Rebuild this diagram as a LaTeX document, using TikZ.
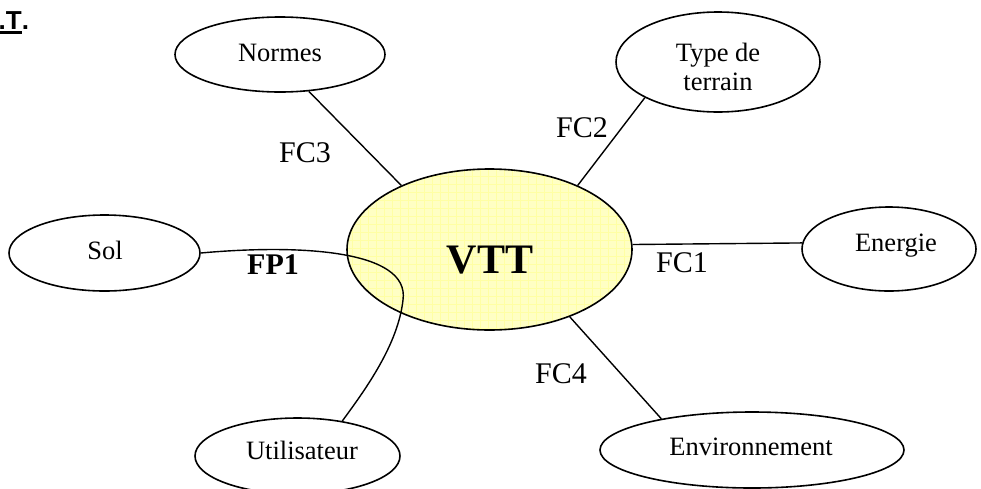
\documentclass[tikz,border=0pt]{standalone}
\usepackage{fontspec}
\setmainfont{Liberation Serif}
\newfontfamily\arialfont{Liberation Sans}
\usetikzlibrary{shapes.geometric}
\definecolor{vttfill}{HTML}{FFFFC4}
\definecolor{vttgrid}{HTML}{FFFFA4}
\newcommand\ulthick[1]{\setbox0\hbox{#1}\rlap{\rule[-4.5pt]{\wd0}{2.6pt}}\box0}
\begin{document}
\begin{tikzpicture}[x=1pt,y=-1pt,
  oval/.style={draw, ellipse, line width=1.6pt, inner sep=0pt},
  conn/.style={line width=1.4pt},
  lbl/.style={anchor=base, inner sep=0pt, font=\fontsize{30}{34}\selectfont},
  txt/.style={anchor=base, inner sep=0pt, font=\fontsize{26.5}{29}\selectfont, align=center}]
\clip (0,0) rectangle (981,488);
\coordinate (c) at (489.5,249.5);
\fill[vttfill] (c) ellipse [x radius=142.5, y radius=80.5];
\begin{scope}
  \clip (c) ellipse [x radius=142.5, y radius=80.5];
  \draw[vttgrid, line width=0.45pt, step=8pt] (340,160) grid (640,340);
\end{scope}
% ellipses
\node[oval, minimum width=285pt, minimum height=161pt] (vtt) at (c) {};
\node[oval, minimum width=210pt, minimum height=75pt] (normes) at (280,54.5) {};
\node[oval, minimum width=204pt, minimum height=100pt] (type) at (718,62) {};
\node[oval, minimum width=191pt, minimum height=76pt] (sol) at (104.5,253) {};
\node[oval, minimum width=174pt, minimum height=84pt] (energie) at (889,249) {};
\node[oval, minimum width=205pt, minimum height=76pt] (util) at (297.5,456) {};
\node[oval, minimum width=304pt, minimum height=76pt] (env) at (752,450) {};
% texts
\node[anchor=base, inner sep=0pt, font=\bfseries\fontsize{42}{46}\selectfont] (vttT) at (490,273) {VTT};
\node[txt] (tnormes) at (280,61) {Normes};
\node[inner sep=0pt, font=\fontsize{26.5}{29}\selectfont, align=center] (ttype) at (718,66.5) {Type de\\terrain};
\node[txt] (tsol) at (105,259) {Sol};
\node[txt] (tenergie) at (896,251) {Energie};
\node[txt] (tutil) at (302,459) {Utilisateur};
\node[txt] (tenv) at (751,455) {Environnement};
% connectors
\draw[conn] (normes.-52) -- (vtt.144);
\draw[conn] (type.206) -- (vtt.36);
\draw[conn] (vtt.2) -- (energie.176);
\draw[conn] (vtt.-40) -- (env.161);
\coordinate (fpbend) at (403,300);
\draw[conn] (sol.east) .. controls (300,244) and (410,250) .. (fpbend)
  .. controls (398,345) and (365,390) .. (util.38);
% labels
\node[lbl] (fc3) at (305,162) {FC3};
\node[lbl] (fc2) at (582,137) {FC2};
\node[lbl] (fc1) at (682,272) {FC1};
\node[lbl] (fc4) at (561,383) {FC4};
\node[lbl, font=\bfseries\fontsize{30}{34}\selectfont] (fp1) at (273,274) {FP1};
% title fragment
\node[anchor=base west, inner sep=0pt, font=\arialfont\bfseries\fontsize{26}{30}\selectfont] (title) at (-1.5,29.5) {\ulthick{.T}.};
\end{tikzpicture}
\end{document}
